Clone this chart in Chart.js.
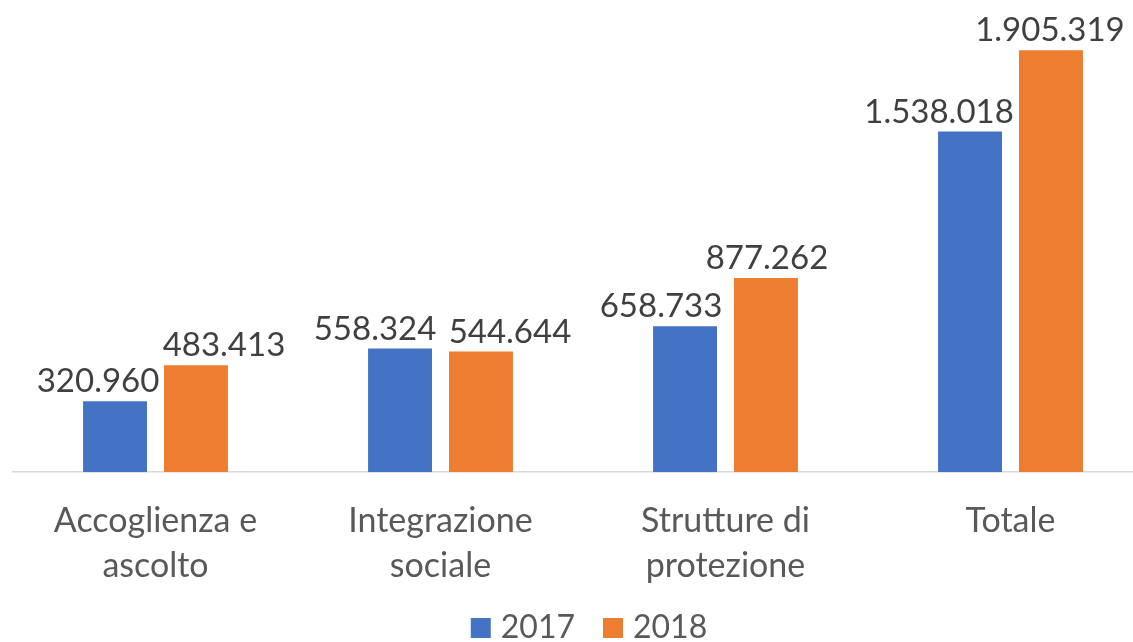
<!DOCTYPE html>
<html>
<head>
<meta charset="utf-8">
<script src="https://cdn.jsdelivr.net/npm/chart.js@4.4.0/dist/chart.umd.min.js"></script>
<style>
html,body{margin:0;padding:0;background:#fff;overflow:hidden;width:1133px;height:642px;}
#wrap{position:absolute;left:0;top:0;width:1178px;height:642px;}
</style>
</head>
<body>
<div id="wrap"><canvas id="c" width="1178" height="642"></canvas></div>
<script>
const categories = [["Accoglienza e","ascolto"],["Integrazione","sociale"],["Strutture di","protezione"],["Totale"]];
const series2017 = [320960, 558324, 658733, 1538018];
const series2018 = [483413, 544644, 877262, 1905319];
const seriesNames = ["2017","2018"];

const FONT = "Lato, 'Open Sans', sans-serif";
function fmt(v){ return v.toString().replace(/\B(?=(\d{3})+(?!\d))/g, "."); }

// horizontal nudges of value labels (Excel-style collision avoidance)
const labelShift = [[-17, 28],[-25, 29],[-24, 1],[-31, -1]];

const valueLabels = {
  id: 'valueLabels',
  afterDatasetsDraw(chart){
    const ctx = chart.ctx;
    ctx.save();
    ctx.font = "33px " + FONT;
    ctx.fillStyle = "#404040";
    ctx.textAlign = "center";
    ctx.textBaseline = "bottom";
    chart.data.datasets.forEach((ds, di) => {
      chart.getDatasetMeta(di).data.forEach((bar, i) => {
        ctx.fillText(fmt(ds.data[i]), bar.x + labelShift[i][di], bar.y - 3);
      });
    });
    ctx.restore();
  }
};

// bottom legend drawn like the Office one (small square, tight text gap)
const bottomLegend = {
  id: 'bottomLegend',
  afterDraw(chart){
    const ctx = chart.ctx;
    ctx.save();
    ctx.font = "32px " + FONT;
    ctx.textBaseline = "middle";
    ctx.textAlign = "left";
    const box = 20, gapText = 10, gapItem = 28;
    const items = chart.data.datasets.map(ds => ({text: ds.label, color: ds.backgroundColor, w: box + gapText + ctx.measureText(ds.label).width}));
    const total = items.reduce((s, it) => s + it.w, 0) + gapItem * (items.length - 1);
    let x = chart.width / 2 - total / 2;
    const cy = 628;
    items.forEach(it => {
      ctx.fillStyle = it.color;
      ctx.fillRect(x, cy - box / 2, box, box);
      ctx.fillStyle = "#595959";
      ctx.fillText(it.text, x + box + gapText, cy);
      x += it.w + gapItem;
    });
    ctx.restore();
  }
};

new Chart(document.getElementById('c'), {
  type: 'bar',
  data: {
    labels: categories,
    datasets: [
      {label: seriesNames[0], data: series2017, backgroundColor: '#4472C4'},
      {label: seriesNames[1], data: series2018, backgroundColor: '#ED7D31'}
    ]
  },
  options: {
    responsive: false,
    animation: false,
    devicePixelRatio: 1,
    layout: {padding: {left: 13, right: 25, top: 0, bottom: 28}},
    datasets: {bar: {categoryPercentage: 0.568, barPercentage: 0.79}},
    scales: {
      x: {
        grid: {display: false, drawTicks: false},
        border: {color: '#D9D9D9', width: 1.5},
        ticks: {color: '#595959', font: {family: FONT, size: 34, lineHeight: 1.32}, padding: 26}
      },
      y: {display: false, min: 0, max: 2131600}
    },
    plugins: {
      legend: {display: false},
      tooltip: {enabled: false}
    }
  },
  plugins: [valueLabels, bottomLegend]
});
</script>
</body>
</html>
